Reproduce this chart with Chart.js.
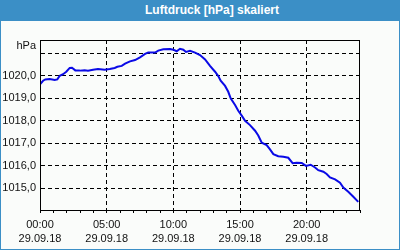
<!DOCTYPE html>
<html>
<head>
<meta charset="utf-8">
<script src="https://cdn.jsdelivr.net/npm/chart.js@4/dist/chart.umd.min.js"></script>
<style>
	body { margin: 0; background: #fff; }
	#wrap { position: relative; width: 400px; height: 250px; background: #fafcfa; overflow: hidden; }
	#title { position: absolute; left: 0; top: 0; width: 400px; height: 21px; background: #3b8fc6;
		color: #fff; font: bold 12px "Liberation Sans", Arial, sans-serif; line-height: 21px;
		text-align: center; box-sizing: border-box; padding-left: 24px; }
	#frame { position: absolute; left: 0; top: 0; width: 400px; height: 250px; box-sizing: border-box;
		border: 1px solid #3b8fc6; border-top: none; pointer-events: none; }
	#pressureChart { position: absolute; left: 0; top: 21px; }
</style>
</head>
<body>
<div id="wrap">
	<div id="title">Luftdruck [hPa] skaliert</div>
	<canvas id="pressureChart" width="400" height="228"></canvas>
	<div id="frame"></div>
</div>
<script>
// Stunden seit 00:00 (29.09.18)
var _hours = [0, 0.23, 0.40, 0.73, 1.10, 1.30, 1.48, 1.73, 1.97, 2.23, 2.40, 2.65, 2.98, 3.35, 3.60, 3.98, 4.35, 4.85,
	5.23, 5.60, 5.80, 6.13, 6.38, 6.75, 7.13, 7.50, 7.88, 8.12, 8.63, 8.87, 9.25, 9.75, 10.0, 10.25, 10.50, 10.75,
	10.95, 11.25, 11.63, 12.0, 12.38, 12.75, 13.13, 13.37, 13.55, 13.88, 14.12, 14.30, 14.63, 14.87, 15.13, 15.38,
	15.75, 16.13, 16.37, 16.63, 17.0, 17.25, 17.50, 17.87, 18.25, 18.62, 18.95, 19.25, 19.63, 19.95, 20.30, 20.63,
	20.87, 21.25, 21.50, 21.75, 22.13, 22.50, 22.75, 23.12, 23.50, 23.87];

// Luftdruck hPa
var _pressure = [1019.62, 1019.78, 1019.84, 1019.86, 1019.81, 1019.84, 1020.00, 1020.07, 1020.18, 1020.35, 1020.36, 1020.24,
	1020.23, 1020.25, 1020.23, 1020.27, 1020.30, 1020.27, 1020.30, 1020.35, 1020.40, 1020.44, 1020.54, 1020.64,
	1020.70, 1020.82, 1020.97, 1021.04, 1021.03, 1021.12, 1021.18, 1021.19, 1021.16, 1021.09, 1021.20, 1021.16,
	1021.06, 1021.11, 1021.03, 1020.92, 1020.73, 1020.44, 1020.18, 1019.99, 1019.78, 1019.55, 1019.29, 1019.00,
	1018.70, 1018.45, 1018.23, 1018.00, 1017.81, 1017.56, 1017.35, 1017.03, 1016.92, 1016.73, 1016.52, 1016.43,
	1016.40, 1016.36, 1016.12, 1016.14, 1016.13, 1016.00, 1016.05, 1015.93, 1015.81, 1015.74, 1015.64, 1015.49,
	1015.40, 1015.25, 1015.04, 1014.85, 1014.63, 1014.40];

var _timeLabels = ['00:00', '05:00', '10:00', '15:00', '20:00'];
var _dateLabel = '29.09.18';
var _unitLabel = 'hPa';

var _points = _hours.map(function(h, i) {
	return { x: h, y: _pressure[i] };
});

var _frameAndUnit = {
	id: 'frameAndUnit',
	afterDraw: function(chart) {
		var a = chart.chartArea;
		var ctx = chart.ctx;
		ctx.save();
		ctx.setLineDash([]);
		ctx.strokeStyle = '#000';
		ctx.lineWidth = 1;
		ctx.strokeRect(a.left + 0.5, a.top + 0.5, a.right - a.left - 1, a.bottom - a.top);
		ctx.fillStyle = '#111';
		ctx.font = '11px "Liberation Sans", Arial, sans-serif';
		ctx.textAlign = 'right';
		ctx.textBaseline = 'middle';
		ctx.fillText(_unitLabel, a.left - 4, a.top + 6);
		ctx.restore();
	}
};

var _font = { family: '"Liberation Sans", Arial, sans-serif', size: 11, lineHeight: 1.3 };

new Chart(document.getElementById('pressureChart'), {
	type: 'line',
	data: {
		datasets: [{
			data: _points,
			borderColor: '#0a0ae6',
			borderWidth: 2,
			pointRadius: 0,
			tension: 0,
			fill: false
		}]
	},
	options: {
		responsive: false,
		animation: false,
		layout: { padding: { left: 0, top: 19, right: 40, bottom: 0 } },
		plugins: { legend: { display: false }, tooltip: { enabled: false } },
		scales: {
			x: {
				type: 'linear',
				min: 0,
				max: 24,
				afterFit: function(scale) { scale.height = 39; },
				border: { color: '#000', width: 1, dash: [4, 3] },
				grid: {
					color: function(c) { return c.tick && c.tick.value % 5 === 0 ? '#000' : 'rgba(0,0,0,0)'; },
					tickColor: '#000',
					tickLength: 3,
					tickBorderDash: []
				},
				ticks: {
					stepSize: 1,
					autoSkip: false,
					maxRotation: 0,
					padding: 5,
					color: '#111',
					font: _font,
					callback: function(v) {
						if (v % 5 !== 0) return '';
						return [_timeLabels[v / 5], _dateLabel];
					}
				}
			},
			y: {
				min: 1014.04,
				max: 1021.59,
				afterFit: function(scale) { scale.width = 40; },
				border: { color: '#000', width: 1, dash: [4, 3] },
				grid: {
					color: '#000',
					drawTicks: false
				},
				ticks: {
					stepSize: 1,
					includeBounds: false,
					padding: 4,
					color: '#111',
					font: _font,
					callback: function(v) {
						if (v >= 1021) return '';
						return v.toFixed(1).replace('.', ',');
					}
				}
			}
		}
	},
	plugins: [_frameAndUnit]
});
</script>
</body>
</html>
